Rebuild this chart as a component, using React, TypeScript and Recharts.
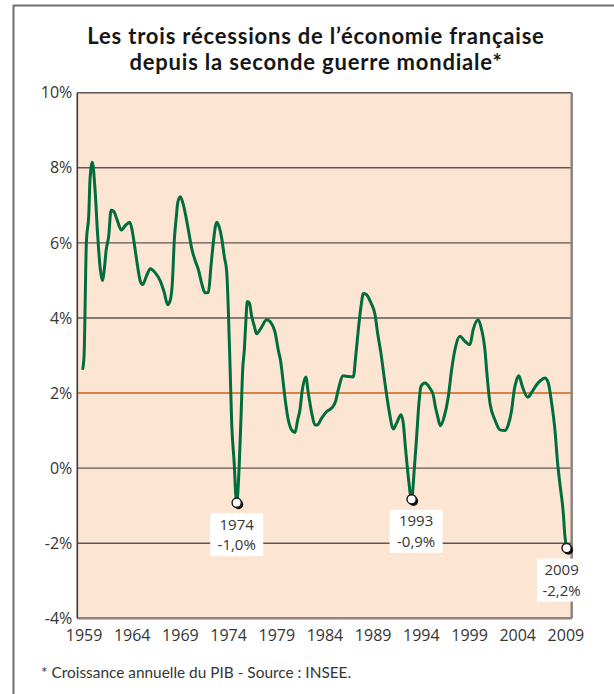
import React from 'react';
import {
  ComposedChart,
  Line,
  Scatter,
  XAxis,
  YAxis,
  CartesianGrid,
  ReferenceLine,
} from 'recharts';

// Annual GDP growth (%) (quarterly-ish samples)
const years = [
  1958.85, 1959.0, 1959.24, 1959.5, 1959.62, 1959.86, 1960.14, 1960.42, 1960.69, 1960.9,
  1961.1, 1961.3, 1961.56, 1961.8, 1962.08, 1962.42, 1962.87, 1963.28, 1963.74, 1963.98,
  1964.2, 1964.5, 1964.84, 1965.09, 1965.46, 1965.88, 1966.4, 1966.92, 1967.33, 1967.68,
  1967.96, 1968.16, 1968.37, 1968.58, 1968.72, 1968.99, 1969.34, 1969.76, 1970.2, 1970.5,
  1970.86, 1971.2, 1971.55, 1971.9, 1972.17, 1972.41, 1972.76, 1973.0, 1973.28, 1973.55,
  1973.8, 1973.97, 1974.15, 1974.32, 1974.6, 1974.73, 1974.84, 1975.08, 1975.29, 1975.46,
  1975.63, 1975.78, 1975.94, 1976.15, 1976.4, 1976.67, 1976.9, 1977.36, 1977.95, 1978.4,
  1978.8, 1979.15, 1979.43, 1979.67, 1979.92, 1980.19, 1980.54, 1980.89, 1981.17, 1981.4,
  1981.65, 1982.0, 1982.27, 1982.62, 1982.96, 1983.2, 1983.65, 1984.18, 1984.69, 1985.1,
  1985.38, 1985.9, 1986.42, 1986.94, 1987.19, 1987.46, 1987.74, 1987.98, 1988.32, 1988.77,
  1989.19, 1989.46, 1989.8, 1990.22, 1990.64, 1991.09, 1991.44, 1991.88, 1992.12, 1992.37,
  1992.64, 1992.99, 1993.26, 1993.51, 1993.75, 1993.96, 1994.37, 1994.89, 1995.23, 1995.48,
  1995.69, 1995.96, 1996.38, 1996.8, 1997.14, 1997.56, 1998.0, 1998.52, 1999.04, 1999.38,
  1999.9, 2000.25, 2000.6, 2000.77, 2001.12, 2001.63, 2002.15, 2002.67, 2003.01, 2003.37,
  2003.64, 2003.88, 2004.12, 2004.47, 2005.03, 2005.5, 2005.96, 2006.4, 2006.82, 2007.17,
  2007.52, 2007.86, 2008.14, 2008.41, 2008.7, 2008.9, 2009.07,
];

const growth = [
  2.62, 2.98, 6.0, 6.8, 7.69, 8.15, 7.42, 6.18, 5.29, 5.0,
  5.29, 5.82, 6.18, 6.87, 6.84, 6.62, 6.34, 6.46, 6.55, 6.35,
  6.0, 5.47, 4.98, 4.89, 5.11, 5.31, 5.2, 4.98, 4.67, 4.35,
  4.49, 4.93, 6.09, 6.71, 7.07, 7.23, 6.98, 6.44, 5.82, 5.55,
  5.29, 4.93, 4.67, 4.68, 5.38, 6.0, 6.55, 6.44, 6.13, 5.64,
  5.24, 4.22, 2.71, 1.2, 0.04, -0.67, -0.92, -0.05, 1.38, 2.62,
  3.15, 3.87, 4.44, 4.4, 4.04, 3.78, 3.58, 3.73, 3.95, 3.87,
  3.64, 3.15, 2.8, 2.27, 1.73, 1.29, 1.02, 0.95, 1.29, 1.55,
  2.09, 2.43, 2.0, 1.47, 1.15, 1.15, 1.33, 1.51, 1.6, 1.78,
  2.09, 2.46, 2.44, 2.43, 2.98, 3.69, 4.31, 4.65, 4.62, 4.4,
  4.09, 3.6, 3.07, 2.27, 1.55, 1.04, 1.2, 1.42, 1.2, 0.49,
  -0.22, -0.83, -0.05, 0.84, 1.73, 2.18, 2.27, 2.13, 1.95, 1.6,
  1.38, 1.13, 1.38, 1.91, 2.62, 3.24, 3.51, 3.38, 3.29, 3.69,
  3.95, 3.69, 3.15, 2.62, 1.73, 1.29, 1.02, 1.0, 1.15, 1.55,
  2.09, 2.35, 2.46, 2.18, 1.89, 2.04, 2.22, 2.34, 2.4, 2.27,
  1.73, 1.02, 0.13, -0.49, -1.11, -1.82, -2.13,
];

const xTicks = [1959, 1964, 1969, 1974, 1979, 1984, 1989, 1994, 1999, 2004, 2009];
const yTicks = [-4, -2, 0, 2, 4, 6, 8, 10];

// Recessions (annotated minima)
const recessionX = [1974.84, 1992.99, 2009.07];
const recessionY = [-0.92, -0.83, -2.13];
const recessionYearLabels = ['1974', '1993', '2009'];
const recessionValueLabels = ['-1,0%', '-0,9%', '-2,2%'];

const TITLE_1 = 'Les trois récessions de l’économie française';
const TITLE_2 = 'depuis la seconde guerre mondiale*';
const FOOTNOTE = '* Croissance annuelle du PIB - Source : INSEE.';

const lineData = years.map((y, i) => ({ year: y, value: growth[i] }));
const recessionData = recessionX.map((x, i) => ({
  year: x,
  value: recessionY[i],
  yearLabel: recessionYearLabels[i],
  valueLabel: recessionValueLabels[i],
  idx: i,
}));

const labelShift = [0, 4.5, -5];
const FONT = '"Open Sans", "DejaVu Sans", sans-serif';
const TEXT = '#353535';

const RecessionMarker = (props: any) => {
  const { cx, cy, payload } = props;
  if (cx == null || cy == null) return null;
  const dx = labelShift[payload.idx] || 0;
  const w = payload.idx === 2 ? 49 : 53;
  const h = 43;
  const bx = cx + dx - w / 2;
  const by = cy + 10.5;
  return (
    <g>
      <rect x={bx} y={by} width={w} height={h} fill="#ffffff" />
      <text x={cx + dx} y={by + 16.5} textAnchor="middle" fontFamily={FONT} fontSize={15} fill={TEXT}>
        {payload.yearLabel}
      </text>
      <text x={cx + dx} y={by + 37} textAnchor="middle" fontFamily={FONT} fontSize={15} fill={TEXT}>
        {payload.valueLabel}
      </text>
      <circle cx={cx + 1.8} cy={cy + 1.8} r={4.8} fill="#111" />
      <circle cx={cx} cy={cy} r={4.6} fill="#ffffff" stroke="#111" strokeWidth={1.4} />
    </g>
  );
};

export default function App() {
  return (
    <div style={{ position: 'absolute', left: 0, top: 0, width: 614, height: 694, background: '#fff' }}>
      <svg
        width={614}
        height={694}
        style={{ position: 'absolute', left: 0, top: 0 }}
      >
        <line x1={13.5} y1={5} x2={13.5} y2={694} stroke="#6e6e6e" strokeWidth={2} />
        <line x1={13} y1={5.5} x2={614} y2={5.5} stroke="#6e6e6e" strokeWidth={2} />
        <text
          x={316}
          y={43.5}
          textAnchor="middle"
          fontFamily='Lato, "Open Sans", sans-serif'
          fontWeight={700}
          fontSize={22}
          letterSpacing={0.8}
          fill="#161616"
        >
          {TITLE_1}
        </text>
        <text
          x={316}
          y={70.2}
          textAnchor="middle"
          fontFamily='Lato, "Open Sans", sans-serif'
          fontWeight={700}
          fontSize={22}
          letterSpacing={0.8}
          fill="#161616"
        >
          {TITLE_2}
        </text>
        <text x={41} y={678.3} fontFamily='Lato, "Open Sans", sans-serif' fontSize={15.4} fill={TEXT}>
          {FOOTNOTE}
        </text>
      </svg>
      <div style={{ position: 'absolute', left: 0, top: 0 }}>
        <ComposedChart
          width={614}
          height={694}
          data={lineData}
          margin={{ top: 92.7, left: 17.3, right: 42.3, bottom: 45.7 }}
        >
          <CartesianGrid
            vertical={false}
            horizontal={true}
            fill="#fde5d3"
            fillOpacity={1}
            stroke="#5e5654"
            strokeWidth={1.4}
          />
          <ReferenceLine y={2} stroke="#f0883a" strokeWidth={1.6} />
          <ReferenceLine x={2009.6} stroke="#8c8482" strokeWidth={2.5} />
          <XAxis
            dataKey="year"
            type="number"
            domain={[1958.3, 2009.6]}
            ticks={xTicks}
            tickLine={false}
            tickSize={9}
            tickMargin={2}
            axisLine={{ stroke: '#8c8482', strokeWidth: 2.5 }}
            tick={{ fontFamily: FONT, fontSize: 16, fill: TEXT }}
            height={30}
            interval={0}
          />
          <YAxis
            dataKey="value"
            type="number"
            domain={[-4, 10]}
            ticks={yTicks}
            tickFormatter={(v: number) => `${v}%`}
            tickLine={false}
            tickSize={3}
            tickMargin={2}
            axisLine={{ stroke: '#3c3838', strokeWidth: 1.6 }}
            tick={{ fontFamily: FONT, fontSize: 16, fill: TEXT }}
            width={60}
            interval={0}
          />
          <Line
            dataKey="value"
            type="monotone"
            stroke="#006d3c"
            strokeWidth={3}
            dot={false}
            activeDot={false}
            isAnimationActive={false}
          />
          <Scatter
            data={recessionData}
            dataKey="value"
            shape={RecessionMarker}
            isAnimationActive={false}
          />
        </ComposedChart>
      </div>
    </div>
  );
}
